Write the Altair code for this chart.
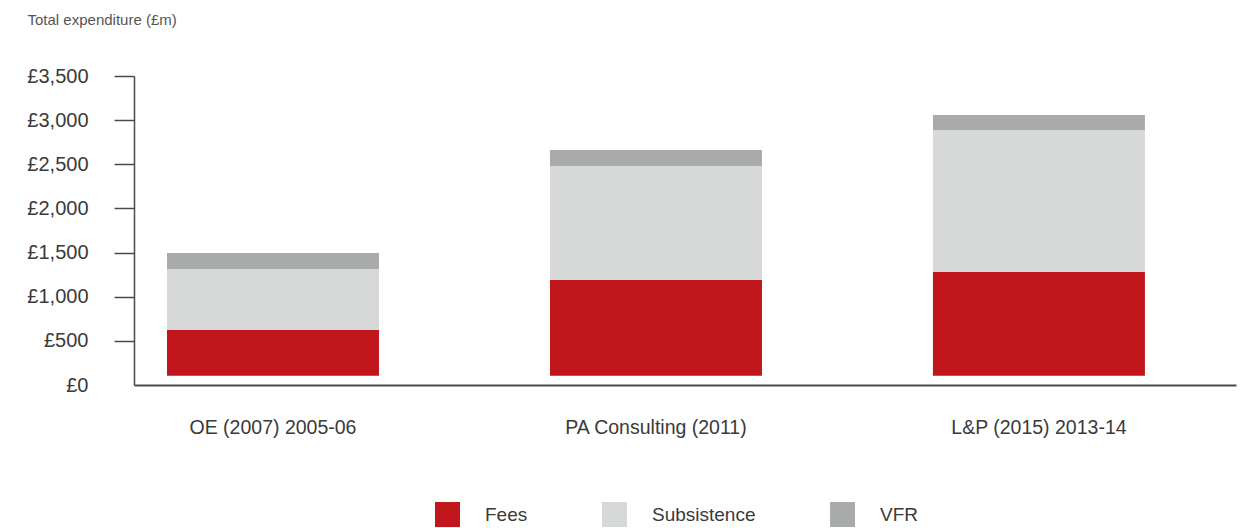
import altair as alt
import pandas as pd

categories = ["OE (2007) 2005-06", "PA Consulting (2011)", "L&P (2015) 2013-14"]
series = ["Fees", "Subsistence", "VFR"]
fees = [518, 1088, 1175]
subsistence = [691, 1287, 1608]
vfr = [181, 182, 170]
colors = ["#C1161C", "#D7D8D8", "#A9AAAA"]
y_ticks = [0, 500, 1000, 1500, 2000, 2500, 3000, 3500]

rows = []
for i, cat in enumerate(categories):
    for j, (name, vals) in enumerate(zip(series, [fees, subsistence, vfr])):
        rows.append({"category": cat, "series": name, "idx": j, "value": vals[i]})
df = pd.DataFrame(rows)

FONT = "Liberation Sans"
TEXT = "#3a3a3a"
AXIS = "#4a4a4a"

chart = alt.Chart(df).mark_bar(yOffset=-9.3).encode(
    x=alt.X(
        "category:N",
        sort=categories,
        scale=alt.Scale(paddingInner=0.4465, paddingOuter=0.162, align=0.266),
        axis=alt.Axis(
            title=None, labelAngle=0, ticks=False, tickSize=0, labelLimit=400,
            labelPadding=33, labelFontSize=19.5, labelColor=TEXT, labelFont=FONT,
            domainColor=AXIS, domainWidth=2,
        ),
    ),
    y=alt.Y(
        "value:Q",
        stack="zero",
        scale=alt.Scale(domain=[0, 3500], nice=False, zero=True),
        axis=alt.Axis(
            values=y_ticks,
            labelExpr="'£' + format(datum.value, ',')",
            grid=False,
            tickSize=20,
            tickWidth=1.5,
            tickColor={"condition": {"test": "datum.value === 0", "value": "transparent"}, "value": AXIS},
            labelPadding=26,
            labelFontSize=20,
            labelColor=TEXT,
            labelFont=FONT,
            domainColor=AXIS,
            domainWidth=1.5,
            title="Total expenditure (£m)",
            titleAngle=0,
            titleAlign="left",
            titleBaseline="alphabetic",
            titleX=-107,
            titleY=-52,
            titleFontSize=15,
            titleFontWeight="normal",
            titleColor="#555555",
            titleFont=FONT,
        ),
    ),
    color=alt.Color(
        "series:N",
        scale=alt.Scale(domain=series, range=colors),
        legend=alt.Legend(
            title=None,
            orient="none",
            legendX=301,
            legendY=426,
            direction="horizontal",
            symbolType="square",
            symbolSize=625,
            symbolStrokeWidth=0,
            symbolOpacity=1,
            labelFontSize=19,
            labelFont=FONT,
            labelColor=TEXT,
            labelOffset=25,
            columnPadding=74,
        ),
    ),
    order=alt.Order("idx:Q", sort="ascending"),
).properties(
    width=1102,
    height=309,
    autosize=alt.AutoSizeParams(type="none"),
    padding={"left": 134, "top": 76, "right": 6, "bottom": 143},
).configure(background="white").configure_view(strokeWidth=0, stroke=None)

chart.save("out.html", embed_options={"renderer": "svg", "actions": False})
